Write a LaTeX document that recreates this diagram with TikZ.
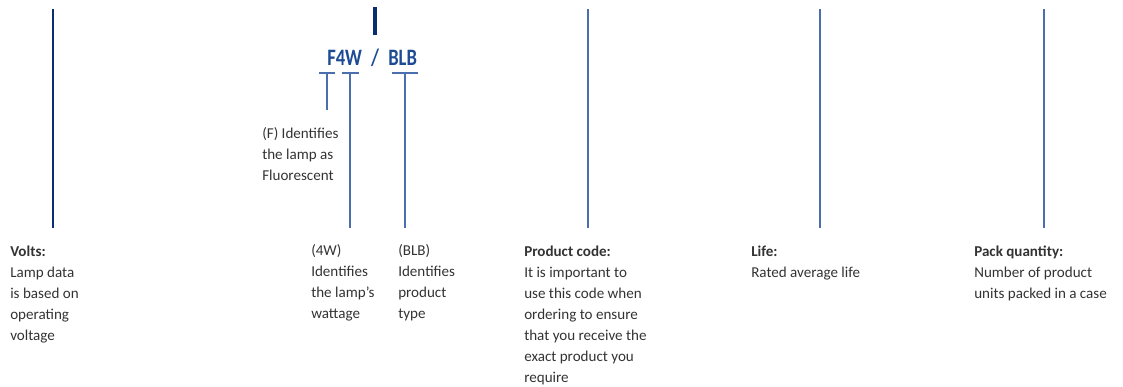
\documentclass[tikz,border=0pt]{standalone}
\usepackage{fontspec}
\setmainfont{Carlito}
\usepackage{graphicx}
\definecolor{navy}{HTML}{0A2D74}
\definecolor{leadblue}{HTML}{4A6EAE}
\definecolor{codeblue}{HTML}{1D4B93}
\definecolor{textgray}{HTML}{333333}
\newcommand{\parablock}[1]{\begin{tabular}[t]{@{}l@{}}#1\end{tabular}}
\begin{document}
\begin{tikzpicture}[x=0.75pt,y=-0.75pt,
  darkline/.style={draw=navy, line width=1.1pt},
  leadline/.style={draw=leadblue, line width=1.1pt},
  bar/.style={draw=navy, line width=2.4pt},
  txt/.style={font=\fontsize{11.3}{15.75}\selectfont, inner sep=0pt, text=textgray, anchor=base west},
  codetxt/.style={font=\bfseries\fontsize{13.9}{16}\selectfont, inner sep=0pt, text=codeblue, anchor=base west}]
\useasboundingbox (0,0) rectangle (1123,386);
% long leader lines
\coordinate (v1) at (53,9);    \coordinate (v2) at (53,228);
\coordinate (p1) at (588,9);   \coordinate (p2) at (588,228);
\coordinate (l1) at (820,9);   \coordinate (l2) at (820,228);
\coordinate (q1) at (1044,9);  \coordinate (q2) at (1044,228);
\draw[darkline] (v1) -- (v2);
\draw[leadline] (p1) -- (p2);
\draw[leadline] (l1) -- (l2);
\draw[leadline] (q1) -- (q2);
% bar above the code
\coordinate (b1) at (375,7); \coordinate (b2) at (375,35);
\draw[bar] (b1) -- (b2);
% code
\node[codetxt] (f4w) at (327,65) {\scalebox{1}[1.27]{F4W}};
\node[codetxt, anchor=base] (slash) at (375,65) {\scalebox{1}[1.27]{/}};
\node[codetxt] (blb) at (388,65) {\scalebox{1}[1.27]{BLB}};
% T brackets
\coordinate (t1a) at (319,73); \coordinate (t1b) at (335,73);
\coordinate (t1c) at (327,73); \coordinate (t1d) at (327,110);
\coordinate (t2a) at (342,73); \coordinate (t2b) at (359,73);
\coordinate (t2c) at (350,73); \coordinate (t2d) at (350,228);
\coordinate (t3a) at (392,73); \coordinate (t3b) at (418,73);
\coordinate (t3c) at (405,73); \coordinate (t3d) at (405,228);
\draw[leadline] (t1a) -- (t1b) (t1c) -- (t1d);
\draw[leadline] (t2a) -- (t2b) (t2c) -- (t2d);
\draw[leadline] (t3a) -- (t3b) (t3c) -- (t3d);
% texts
\node[txt] (volts) at (10,256) {\parablock{\textbf{Volts:}\\Lamp data\\is based on\\operating\\voltage}};
\node[txt] (ftxt) at (262,138) {\parablock{(F) Identifies\\the lamp as\\Fluorescent}};
\node[txt] (wtxt) at (311,255) {\parablock{(4W)\\Identifies\\the lamp’s\\wattage}};
\node[txt] (btxt) at (398,255) {\parablock{(BLB)\\Identifies\\product\\type}};
\node[txt] (pc) at (524,256) {\parablock{\textbf{Product code:}\\It is important to\\use this code when\\ordering to ensure\\that you receive the\\exact product you\\require}};
\node[txt] (life) at (751,256) {\parablock{\textbf{Life:}\\Rated average life}};
\node[txt] (pack) at (974,256) {\parablock{\textbf{Pack quantity:}\\Number of product\\units packed in a case}};
\end{tikzpicture}
\end{document}
